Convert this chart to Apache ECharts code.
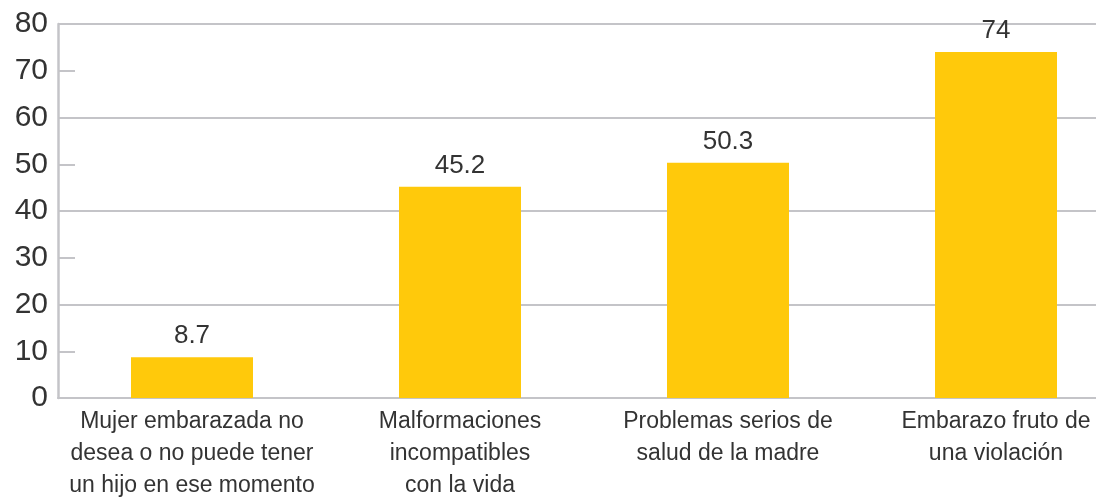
<!DOCTYPE html>
<html>
<head>
<meta charset="utf-8">
<script src="https://cdn.jsdelivr.net/npm/echarts@6/dist/echarts.min.js"></script>
<style>
  html, body { margin: 0; padding: 0; background: #fff; }
  #chart { width: 1096px; height: 498px; }
</style>
</head>
<body>
<div id="chart"></div>
<script>
// razones para aceptar el aborto (%)
var categories = [
  'Mujer embarazada no\ndesea o no puede tener\nun hijo en ese momento',
  'Malformaciones\nincompatibles\ncon la vida',
  'Problemas serios de\nsalud de la madre',
  'Embarazo fruto de\nuna violación'
];
var values = [8.7, 45.2, 50.3, 74];

var gridColor = '#c4c4c8';
var textColor = '#333333';
var barColor = '#ffc90b';
var fontName = 'Liberation Sans';

var chart = echarts.init(document.getElementById('chart'));

var option = {
  animation: false,
  textStyle: { fontFamily: fontName },
  grid: {
    left: 58,
    top: 24,
    width: 1072,
    bottom: 100,
    outerBoundsMode: 'none'
  },
  xAxis: {
    type: 'category',
    data: categories,
    axisLine: { show: true, lineStyle: { color: gridColor, width: 2 } },
    axisTick: { show: false },
    axisLabel: {
      color: textColor,
      fontSize: 23,
      lineHeight: 32,
      margin: 8,
      interval: 0,
      fontFamily: fontName
    }
  },
  yAxis: [
    {
      // etiquetas y marcas cada 10
      type: 'value',
      min: 0,
      max: 80,
      interval: 10,
      axisLine: { show: true, lineStyle: { color: gridColor, width: 2.5 } },
      axisTick: { show: true, inside: true, length: 17, lineStyle: { color: gridColor, width: 2 } },
      axisLabel: { color: textColor, fontSize: 30, margin: 10, padding: [16, 0, 0, 0], fontFamily: fontName },
      splitLine: { show: false }
    },
    {
      // lineas de cuadricula cada 20
      type: 'value',
      min: 0,
      max: 80,
      interval: 20,
      position: 'left',
      axisLine: { show: false },
      axisTick: { show: false },
      axisLabel: { show: false },
      splitLine: { show: true, lineStyle: { color: gridColor, width: 2 } }
    }
  ],
  series: [
    {
      type: 'bar',
      data: values,
      barWidth: 122,
      itemStyle: { color: barColor },
      label: {
        show: true,
        position: 'top',
        distance: 8,
        color: textColor,
        fontSize: 26,
        fontFamily: fontName
      },
      z: 3
    }
  ]
};

chart.setOption(option);
</script>
</body>
</html>
